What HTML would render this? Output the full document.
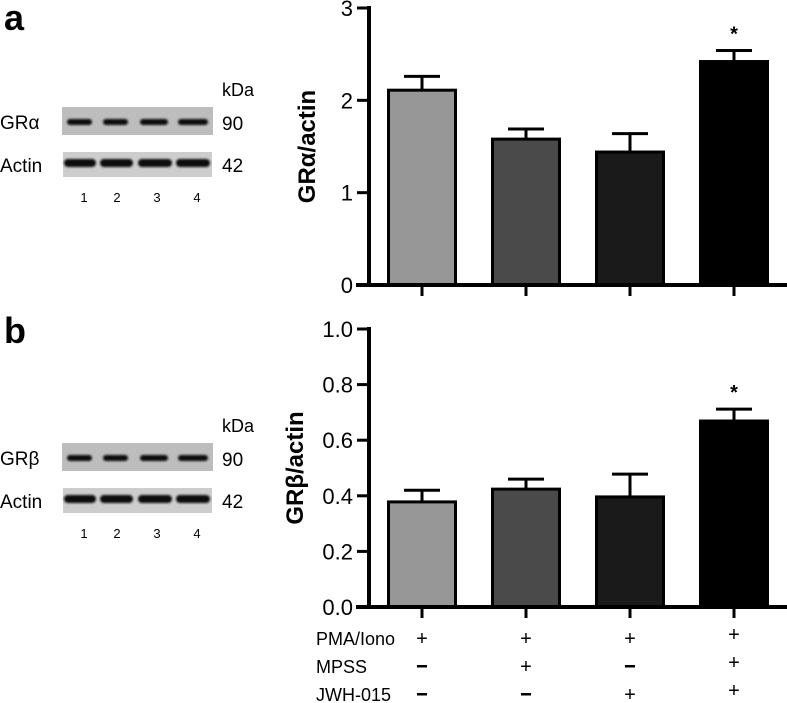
<!DOCTYPE html>
<html><head><meta charset="utf-8"><style>
html,body{margin:0;padding:0;background:#fff;}
svg{display:block;font-family:"Liberation Sans",Arial,sans-serif;}
</style></head><body>
<svg id="fig" width="787" height="703" viewBox="0 0 787 703" xmlns="http://www.w3.org/2000/svg">
<defs>
<filter id="blur" x="-10%" y="-50%" width="120%" height="200%"><feGaussianBlur stdDeviation="1.1"/></filter>
</defs>
<text x="4" y="30" font-size="36" font-weight="bold">a</text>
<text x="4" y="343" font-size="36" font-weight="bold">b</text>
<g id="blotA"></g>
<g id="blotB"></g>
<g id="chartA"></g>
<g id="chartB"></g>
<g id="conds"></g>
</svg>
<script>
const categories = ["1","2","3","4"];
const seriesA = [2.11, 1.58, 1.44, 2.42];
const errA = [0.15, 0.11, 0.20, 0.12];
const seriesB = [0.378, 0.424, 0.396, 0.669];
const errB = [0.042, 0.036, 0.082, 0.043];
const ticksA = ["0","1","2","3"];
const ticksB = ["0.0","0.2","0.4","0.6","0.8","1.0"];
const sigFlags = [false,false,false,true];
const rowLabels = ["PMA/Iono","MPSS","JWH-015"];
const rowSigns = [["+","+","+","+"],["-","+","-","+"],["-","-","+","+"]];
const fills = ["#979797","#4a4a4a","#1a1a1a","#000000"];

const NS="http://www.w3.org/2000/svg";
function mk(parent,tag,attrs,txt){const e=document.createElementNS(NS,tag);for(const k in attrs)e.setAttribute(k,attrs[k]);if(txt!==undefined)e.textContent=txt;parent.appendChild(e);return e;}

const xCenters=[422,526,630,734];
const barW=70;
function xScale(i){return xCenters[i];}

function drawChart(gid,vals,errs,ticks,yMax,y0,y1,title,titleX){
  const g=document.getElementById(gid);
  const y=v=>y0-(v/yMax)*(y0-y1);
  const axisX=369;
  vals.forEach((v,i)=>{
    const cx=xScale(i);
    const top=y(v), cap=y(v+errs[i]);
    const ln=mk(g,'line',{x1:cx,x2:cx,y1:cap,y2:top,stroke:'#000','stroke-width':3});
    
    
    const cp=mk(g,'line',{x1:cx-18,x2:cx+18,y1:cap,y2:cap,stroke:'#000','stroke-width':3});
    
    
    const r=mk(g,'rect',{x:cx-barW/2+1.5,y:top,width:barW-3,height:y0-top,fill:fills[i],stroke:'#000','stroke-width':3});
    
    
    const t=mk(g,'line',{x1:cx,x2:cx,y1:y0+2,y2:y0+11,stroke:'#000','stroke-width':3});
    
    
    if(sigFlags[i]){
      const s=mk(g,'text',{x:cx,y:cap-10,'font-size':20,'font-weight':'bold','text-anchor':'middle'},'*');
      
      
    }
  });
  const ax=mk(g,'line',{x1:axisX,x2:axisX,y1:y1-2,y2:y0+1.5,stroke:'#000','stroke-width':4});
  
  
  const bx=mk(g,'line',{x1:axisX-13,x2:787,y1:y0,y2:y0,stroke:'#000','stroke-width':4});
  
  
  ticks.forEach((lab,k)=>{
    const v=parseFloat(lab);
    const yy=y(v);
    const tk=mk(g,'line',{x1:axisX-12,x2:axisX,y1:yy,y2:yy,stroke:'#000','stroke-width':3});
    
    
    const tl=mk(g,'text',{x:axisX-16,y:yy+8,'font-size':22,'text-anchor':'end'},lab);
    
    
  });
  const midY=(y0+y1)/2;
  const tt=mk(g,'text',{x:titleX,y:midY,'font-size':24,'font-weight':'bold','text-anchor':'middle',transform:`rotate(-90 ${titleX} ${midY})`},title);
  
  
}
drawChart('chartA',seriesA,errA,ticksA,3,285,8,'GRα/actin',315);
drawChart('chartB',seriesB,errB,ticksB,1.0,607,329,'GRβ/actin',303);

const c=document.getElementById('conds');
const rowY=[645,673,701];
rowLabels.forEach((lab,r)=>{
  const t=mk(c,'text',{x:316,y:rowY[r],'font-size':18},lab);
  
  
  rowSigns[r].forEach((s,i)=>{
    const yy = (i===3)? rowY[r]-4 : rowY[r];
    let st;
    if(s==='-'){
      st=mk(c,'rect',{x:xScale(i)-5,y:yy-8,width:10,height:2.5,fill:'#000'});
    } else {
      st=mk(c,'text',{x:xScale(i),y:yy,'font-size':20,'text-anchor':'middle'},'+');
    }
    
    
  });
});

function drawBlot(gid,oy,label){
  const g=document.getElementById(gid);
  const kd=mk(g,'text',{x:222,y:oy+96,'font-size':18},'kDa');
  
  const gl=mk(g,'text',{x:0,y:oy+129,'font-size':19},label);
  
  const al=mk(g,'text',{x:0,y:oy+172,'font-size':19},'Actin');
  
  const m1=mk(g,'text',{x:222,y:oy+130,'font-size':19},'90');
  
  const m2=mk(g,'text',{x:222,y:oy+172,'font-size':19},'42');
  
  const b1=mk(g,'rect',{x:62,y:oy+107,width:151,height:28,fill:'#bdbdbd'});
  
  const b2=mk(g,'rect',{x:63,y:oy+152,width:149,height:25,fill:'#cdcdcd'});
  
  const gb=[[67,92],[103,128],[140,168],[178,208]];
  const ab=[[64,96],[100,133],[138,172],[176,210]];
  const lx=[84,117,157,197];
  categories.forEach((cat,i)=>{
    const e1=mk(g,'rect',{x:gb[i][0],y:oy+119,width:gb[i][1]-gb[i][0],height:6,rx:3,fill:'#111',filter:'url(#blur)'});
    
    const e2=mk(g,'rect',{x:ab[i][0],y:oy+159,width:ab[i][1]-ab[i][0],height:8,rx:4,fill:'#0a0a0a',filter:'url(#blur)'});
    
    const n=mk(g,'text',{x:lx[i],y:oy+202,'font-size':13,'text-anchor':'middle'},cat);
    
  });
}
drawBlot('blotA',0,'GRα');
drawBlot('blotB',336,'GRβ');
</script>
</body></html>
